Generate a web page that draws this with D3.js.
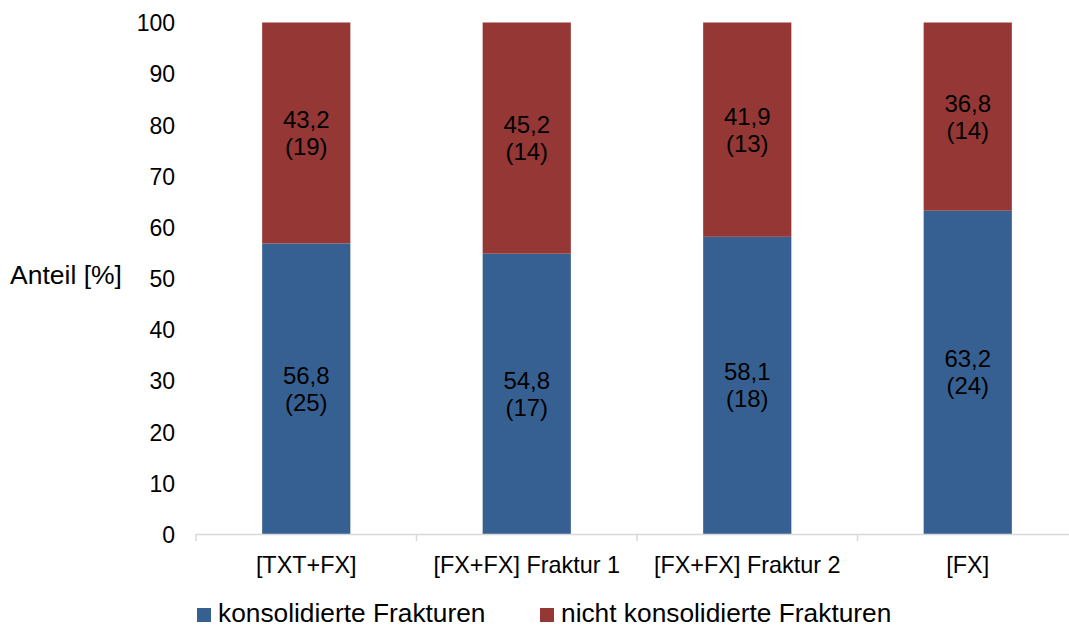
<!DOCTYPE html>
<html><head><meta charset="utf-8">
<script src="https://cdn.jsdelivr.net/npm/d3@7"></script>
<style>body{margin:0;background:#fff}svg{display:block}text{font-family:"Liberation Sans",Arial,sans-serif;fill:#000}</style>
</head><body>
<svg id="c" width="1069" height="627"></svg>
<script>
const categories = ["[TXT+FX]", "[FX+FX] Fraktur 1", "[FX+FX] Fraktur 2", "[FX]"];
const consolidated = [56.8, 54.8, 58.1, 63.2];
const consolidatedN = [25, 17, 18, 24];
const notConsolidated = [43.2, 45.2, 41.9, 36.8];
const notConsolidatedN = [19, 14, 13, 14];
const yTicks = [0, 10, 20, 30, 40, 50, 60, 70, 80, 90, 100];
const seriesNames = ["konsolidierte Frakturen", "nicht konsolidierte Frakturen"];
const colors = ["#376092", "#953735"];

const svg = d3.select("#c");
const x = d3.scaleBand().domain(categories).range([196, 1078]).paddingInner(0.6).paddingOuter(0.3);
const y = d3.scaleLinear().domain([0, 100]).range([534, 22.5]);
const fmt = v => v.toFixed(1).replace(".", ",");

// y labels
svg.append("g").selectAll("text").data(yTicks).join("text")
  .attr("x", 175).attr("y", d => y(d) + 8.8)
  .attr("text-anchor", "end").style("font-size", "23px").text(d => d);

svg.append("text").attr("x", 10).attr("y", 284)
  .style("font-size", "26.5px").text("Anteil [%]");

// bars
const segs = [];
categories.forEach((c, i) => {
  segs.push({c, s: 0, y0: 0, y1: consolidated[i], v: consolidated[i], n: consolidatedN[i]});
  segs.push({c, s: 1, y0: consolidated[i], y1: consolidated[i] + notConsolidated[i], v: notConsolidated[i], n: notConsolidatedN[i]});
});
svg.append("g").selectAll("rect").data(segs).join("rect")
  .attr("x", d => x(d.c)).attr("width", x.bandwidth())
  .attr("y", d => y(Math.min(d.y1, 100))).attr("height", d => y(d.y0) - y(Math.min(d.y1, 100)))
  .attr("fill", d => colors[d.s]);

const lab = svg.append("g").selectAll("text").data(segs).join("text")
  .attr("text-anchor", "middle").style("font-size", "24px")
  .attr("x", d => x(d.c) + x.bandwidth() / 2);
lab.each(function(d) {
  const cy = y((d.y0 + d.y1) / 2);
  const cx = x(d.c) + x.bandwidth() / 2;
  const t = d3.select(this);
  t.append("tspan").attr("x", cx).attr("y", cy - 13.5 + 8.5).text(fmt(d.v));
  t.append("tspan").attr("x", cx).attr("y", cy + 13.5 + 8.5).text("(" + d.n + ")");
});

// x axis
const ax = svg.append("g");
ax.append("line").attr("x1", 196).attr("x2", 1078).attr("y1", 534.5).attr("y2", 534.5).attr("stroke", "#d9d9d9").attr("stroke-width", 1.5);
const step = x.step();
const bounds = [0, 1, 2, 3, 4].map(i => 196 + i * step);
ax.selectAll("line.t").data(bounds).join("line").attr("class", "t")
  .attr("x1", d => d).attr("x2", d => d).attr("y1", 534).attr("y2", 541)
  .attr("stroke", "#d9d9d9").attr("stroke-width", 1.5);
ax.selectAll("text").data(categories).join("text")
  .attr("x", d => x(d) + x.bandwidth() / 2).attr("y", 573)
  .attr("text-anchor", "middle").style("font-size", "23.4px").text(d => d);

// legend
const lg = svg.append("g");
const lx = [197, 540];
seriesNames.forEach((n, i) => {
  lg.append("rect").attr("x", lx[i]).attr("y", 608).attr("width", 14).attr("height", 14).attr("fill", colors[i]);
  lg.append("text").attr("x", lx[i] + 21).attr("y", 621.5).style("font-size", "26.3px").text(n);
});
</script>
</body></html>
